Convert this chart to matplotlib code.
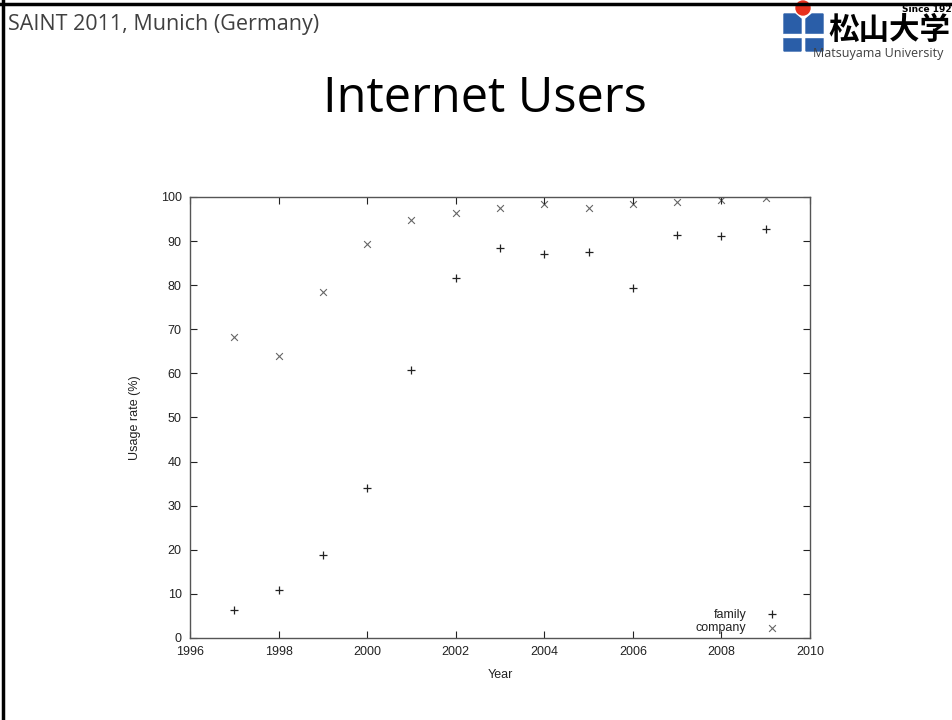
import matplotlib.pyplot as plt
import matplotlib.patches as mpatches
from matplotlib.lines import Line2D

years = [1997, 1998, 1999, 2000, 2001, 2002, 2003, 2004, 2005, 2006, 2007, 2008, 2009]
family = [6.4, 10.9, 18.9, 33.9, 60.8, 81.6, 88.4, 87.1, 87.5, 79.4, 91.4, 91.2, 92.7]
company = [68.3, 63.9, 78.4, 89.3, 94.8, 96.3, 97.6, 98.3, 97.6, 98.3, 98.9, 99.3, 99.7]

xticks = list(range(1996, 2011, 2))
yticks = list(range(0, 101, 10))

fig = plt.figure(figsize=(9.53, 7.2), dpi=100)
fig.patch.set_facecolor('white')

# slide frame (left and top edges)
fig.add_artist(Line2D([0.003, 0.003], [0, 1], transform=fig.transFigure, color='black', lw=2.5))
fig.add_artist(Line2D([0, 1], [0.995, 0.995], transform=fig.transFigure, color='black', lw=2.5))

fig.text(0.008, 0.966, 'SAINT 2011, Munich (Germany)', fontsize=15.5, color='#404040',
         family='Open Sans', va='center', ha='left')
fig.text(0.509, 0.862, 'Internet Users', fontsize=35, color='black',
         family='Open Sans', va='center', ha='center')

# university logo, laid out in pixel units of the top-right corner
logo = fig.add_axes([760 / 953, 1 - 62 / 720, 193 / 953, 62 / 720])
logo.set_xlim(760, 953)
logo.set_ylim(62, 0)
logo.axis('off')
blue = '#2a5ea8'
logo.add_patch(mpatches.Polygon([(784, 14), (795, 14), (801, 19), (801, 51), (784, 51)], color=blue))
logo.add_patch(mpatches.Polygon([(806, 19), (812, 14), (823, 14), (823, 51), (806, 51)], color=blue))
logo.add_patch(mpatches.Rectangle((783, 34), 41, 2.5, color='white'))
logo.add_patch(mpatches.Circle((803, 8), 7, color='#e8301c'))
logo.text(828, 30, '松山大学', fontsize=22, fontweight='bold', color='black',
          family=['Noto Sans CJK JP', 'DejaVu Sans'], va='center', ha='left')
logo.text(902, 10, 'Since 1923', fontsize=6.5, fontweight='bold', color='black',
          family='DejaVu Sans', va='center', ha='left')
logo.text(813, 53, 'Matsuyama University', fontsize=9, color='#404040',
          family='Open Sans', va='center', ha='left')

ax = fig.add_axes([0.1994, 0.1139, 0.6506, 0.6125])
ax.scatter(years, family, marker='+', s=28, color='#222222', linewidths=0.9, label='family')
ax.scatter(years, company, marker='x', s=24, color='#666666', linewidths=0.8, label='company')

ax.set_xlim(1996, 2010)
ax.set_ylim(0, 100)
ax.set_xticks(xticks)
ax.set_yticks(yticks)
ax.tick_params(direction='in', top=True, right=True, length=5, width=0.8,
               labelsize=9, colors='#222222')
ax.tick_params(axis='x', pad=6)
ax.tick_params(axis='y', pad=6)
for lab in ax.get_xticklabels() + ax.get_yticklabels():
    lab.set_family('Liberation Sans')
for sp in ax.spines.values():
    sp.set_color('#555555')
    sp.set_linewidth(1.0)

ax.set_xlabel('Year', fontsize=9, family='Liberation Sans', color='#222222', labelpad=8)
ax.set_ylabel('Usage rate (%)', fontsize=9, family='Liberation Sans', color='#222222', labelpad=14)

leg = ax.legend(loc='lower right', bbox_to_anchor=(0.958, 0.008), frameon=False,
                markerfirst=False, handlelength=2.0, handletextpad=1.0, borderpad=0,
                borderaxespad=0, labelspacing=0.15,
                prop={'family': 'Liberation Sans', 'size': 9})
for t in leg.get_texts():
    t.set_color('#222222')

fig.savefig('out.png', dpi=100)
